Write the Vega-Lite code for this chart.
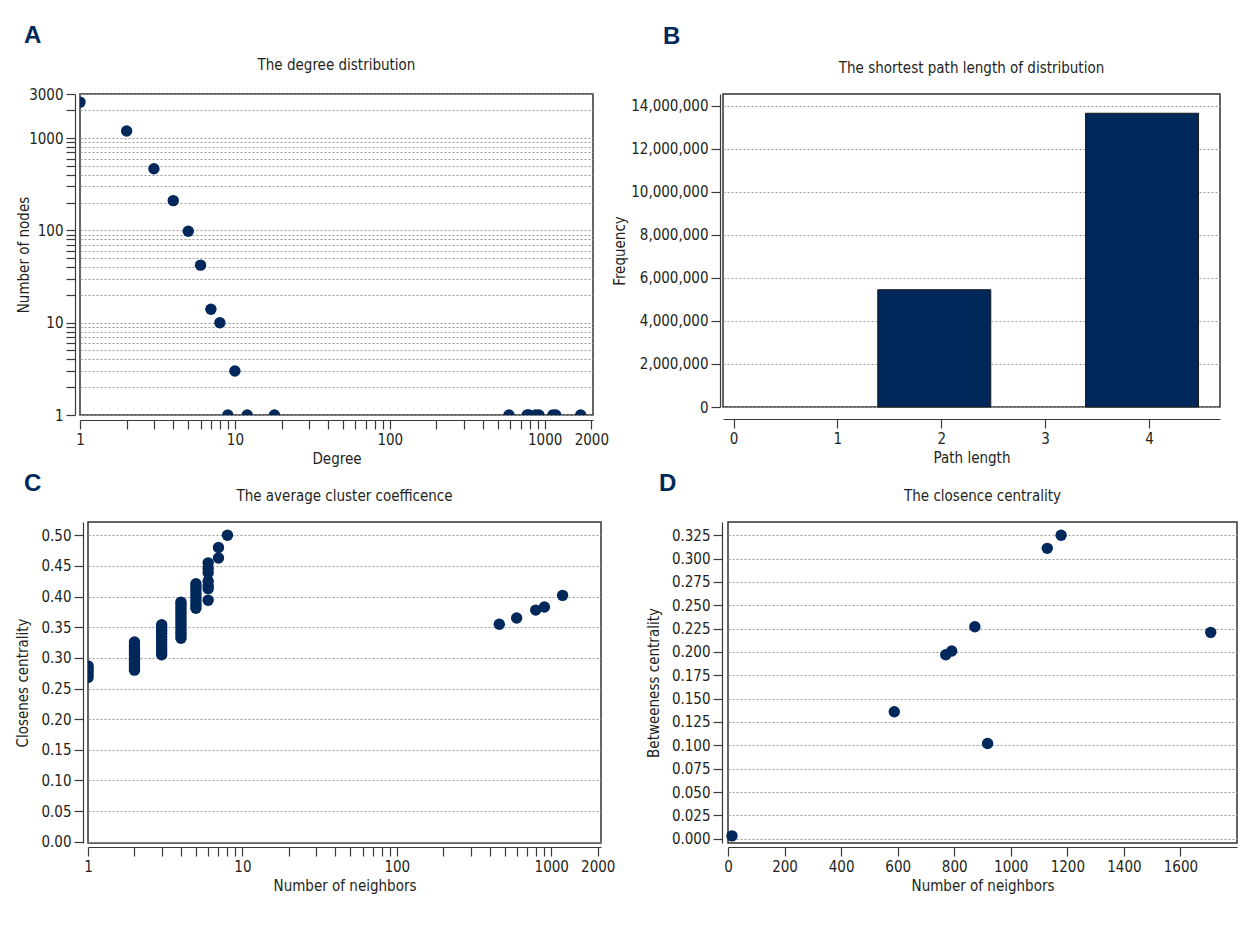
{
 "$schema": "https://vega.github.io/schema/vega-lite/v6.json",
 "background": "white",
 "padding": {"left": 8, "top": 24, "right": 5, "bottom": 5},
 "datasets": {
  "deg": [{"k":1,"n":2450},{"k":2,"n":1190},{"k":3,"n":465},{"k":4,"n":210},{"k":5,"n":98},{"k":6,"n":42},{"k":7,"n":14},{"k":8,"n":10},{"k":10,"n":3},{"k":9,"n":1},{"k":12,"n":1},{"k":18,"n":1},{"k":588,"n":1},{"k":770,"n":1},{"k":791,"n":1},{"k":873,"n":1},{"k":918,"n":1},{"k":1129,"n":1},{"k":1178,"n":1},{"k":1707,"n":1}],
  "path": [{"len":2,"freq":5450000},{"len":4,"freq":13650000}],
  "clus": [
   {"k":1,"c":0.268},{"k":1,"c":0.272},{"k":1,"c":0.276},{"k":1,"c":0.280},{"k":1,"c":0.284},{"k":1,"c":0.287},
   {"k":2,"c":0.280},{"k":2,"c":0.284},{"k":2,"c":0.288},{"k":2,"c":0.292},{"k":2,"c":0.296},{"k":2,"c":0.300},{"k":2,"c":0.304},{"k":2,"c":0.308},{"k":2,"c":0.312},{"k":2,"c":0.316},{"k":2,"c":0.320},{"k":2,"c":0.326},
   {"k":3,"c":0.305},{"k":3,"c":0.310},{"k":3,"c":0.315},{"k":3,"c":0.320},{"k":3,"c":0.325},{"k":3,"c":0.330},{"k":3,"c":0.335},{"k":3,"c":0.340},{"k":3,"c":0.345},{"k":3,"c":0.350},{"k":3,"c":0.354},
   {"k":4,"c":0.332},{"k":4,"c":0.337},{"k":4,"c":0.342},{"k":4,"c":0.347},{"k":4,"c":0.352},{"k":4,"c":0.357},{"k":4,"c":0.362},{"k":4,"c":0.367},{"k":4,"c":0.372},{"k":4,"c":0.377},{"k":4,"c":0.382},{"k":4,"c":0.387},{"k":4,"c":0.391},
   {"k":5,"c":0.381},{"k":5,"c":0.386},{"k":5,"c":0.391},{"k":5,"c":0.396},{"k":5,"c":0.401},{"k":5,"c":0.406},{"k":5,"c":0.411},{"k":5,"c":0.416},{"k":5,"c":0.421},
   {"k":6,"c":0.394},{"k":6,"c":0.413},{"k":6,"c":0.418},{"k":6,"c":0.425},{"k":6,"c":0.439},{"k":6,"c":0.446},{"k":6,"c":0.455},
   {"k":7,"c":0.463},{"k":7,"c":0.480},{"k":8,"c":0.500},
   {"k":461,"c":0.355},{"k":597,"c":0.365},{"k":793,"c":0.378},{"k":903,"c":0.383},{"k":1184,"c":0.402}
  ],
  "clo": [{"k":14,"b":0.003},{"k":588,"b":0.136},{"k":770,"b":0.197},{"k":791,"b":0.201},{"k":873,"b":0.227},{"k":918,"b":0.102},{"k":1129,"b":0.311},{"k":1178,"b":0.325},{"k":1707,"b":0.221}]
 },
 "config": {
  "font": "DejaVu Sans Condensed, DejaVu Sans, sans-serif",
  "view": {"stroke": "#333333", "strokeWidth": 1.5},
  "axis": {
   "domainColor": "#3a3a3a", "domainWidth": 1.2, "tickColor": "#3a3a3a", "tickWidth": 1.2, "tickSize": 9,
   "labelFontSize": 15, "labelColor": "#231f20", "labelPadding": 3, "labelFlush": false, "labelOverlap": false,
   "titleFontSize": 15, "titleFontWeight": "normal", "titleColor": "#231f20", "titlePadding": 4,
   "gridColor": "#999999", "gridDash": [2, 2], "gridWidth": 1
  },
  "title": {"fontSize": 15, "fontWeight": "normal", "color": "#231f20"}
 },
 "columns": 2,
 "align": {"row": "each", "column": "none"},
 "spacing": {"row": 5, "column": -4},
 "concat": [
  {
   "title": {"text": "A", "anchor": "start", "frame": "group", "dx": 13, "offset": 9, "font": "Liberation Sans, Arial, sans-serif", "fontSize": 24, "fontWeight": "bold", "color": "#00285a"},
   "spacing": 0,
   "hconcat": [
    {"width": 1, "height": 1, "data": {"values": [{}]}, "mark": {"type": "point", "opacity": 0}, "encoding": {}, "view": {"stroke": "transparent"}},
    {
     "width": 513, "height": 321,
     "title": {"text": "The degree distribution", "anchor": "middle", "frame": "group", "offset": 14},
     "data": {"name": "deg"},
     "mark": {"type": "circle", "size": 130, "color": "#00285a", "opacity": 1, "clip": true},
     "encoding": {
      "x": {"field": "k", "type": "quantitative", "scale": {"type": "log", "domain": [1, 2050], "nice": false},
            "axis": {"title": "Degree", "grid": false, "offset": 5, "values": [1,2,3,4,5,6,7,8,9,10,20,30,40,50,60,70,80,90,100,200,300,400,500,600,700,800,900,1000,2000], "labelExpr": "indexof([1,10,100,1000,2000], datum.value) >= 0 ? format(datum.value, 'd') : ''"}},
      "y": {"field": "n", "type": "quantitative", "scale": {"type": "log", "domain": [1, 3000], "nice": false},
            "axis": {"title": "Number of nodes", "grid": true, "offset": 5, "titlePadding": -3, "values": [1,2,3,4,5,6,7,8,9,10,20,30,40,50,60,70,80,90,100,200,300,400,500,600,700,800,900,1000,2000,3000], "labelExpr": "indexof([1,10,100,1000,3000], datum.value) >= 0 ? format(datum.value, 'd') : ''"}}
     }
    }
   ]
  },
  {
   "title": {"text": "B", "anchor": "start", "frame": "group", "dx": -60, "offset": 11, "font": "Liberation Sans, Arial, sans-serif", "fontSize": 24, "fontWeight": "bold", "color": "#00285a"},
   "vconcat": [
    {
     "width": 497, "height": 313,
     "title": {"text": "The shortest path length of distribution", "anchor": "middle", "frame": "group", "offset": 18},
     "data": {"name": "path"},
     "mark": {"type": "bar", "size": 113, "color": "#00285a", "stroke": "#1a1a1a", "strokeWidth": 1, "xOffset": -7},
     "encoding": {
      "x": {"field": "len", "type": "quantitative", "scale": {"domain": [-0.053, 4.635], "nice": false, "zero": false},
            "axis": {"title": "Path length", "grid": false, "offset": 12, "values": [0,1,2,3,4], "format": "d"}},
      "y": {"field": "freq", "type": "quantitative", "scale": {"domain": [0, 14545000], "nice": false},
            "axis": {"title": "Frequency", "grid": true, "offset": 3, "titlePadding": 3, "values": [0,2000000,4000000,6000000,8000000,10000000,12000000,14000000], "format": ",d"}}
     }
    }
   ]
  },
  {
   "title": {"text": "C", "anchor": "start", "frame": "group", "dx": 13, "offset": -8, "font": "Liberation Sans, Arial, sans-serif", "fontSize": 24, "fontWeight": "bold", "color": "#00285a"},
   "spacing": 0,
   "hconcat": [
    {"width": 1, "height": 1, "data": {"values": [{}]}, "mark": {"type": "point", "opacity": 0}, "encoding": {}, "view": {"stroke": "transparent"}},
    {
     "width": 513, "height": 321,
     "title": {"text": "The average cluster coefficence", "anchor": "middle", "frame": "group", "offset": 18},
     "data": {"name": "clus"},
     "mark": {"type": "circle", "size": 130, "color": "#00285a", "opacity": 1, "clip": true},
     "encoding": {
      "x": {"field": "k", "type": "quantitative", "scale": {"type": "log", "domain": [1, 2100], "nice": false},
            "axis": {"title": "Number of neighbors", "grid": false, "offset": 4, "values": [1,2,3,4,5,6,7,8,9,10,20,30,40,50,60,70,80,90,100,200,300,400,500,600,700,800,900,1000,2000], "labelExpr": "indexof([1,10,100,1000,2000], datum.value) >= 0 ? format(datum.value, 'd') : ''"}},
      "y": {"field": "c", "type": "quantitative", "scale": {"domain": [-0.002, 0.5217], "nice": false, "zero": false},
            "axis": {"title": "Closenes centrality", "grid": true, "offset": 5, "titlePadding": 10, "values": [0,0.05,0.1,0.15,0.2,0.25,0.3,0.35,0.4,0.45,0.5], "format": ".2f"}}
     }
    }
   ]
  },
  {
   "title": {"text": "D", "anchor": "start", "frame": "group", "dx": 46, "offset": -8, "font": "Liberation Sans, Arial, sans-serif", "fontSize": 24, "fontWeight": "bold", "color": "#00285a"},
   "spacing": 0,
   "hconcat": [
    {"width": 31, "height": 1, "data": {"values": [{}]}, "mark": {"type": "point", "opacity": 0}, "encoding": {}, "view": {"stroke": "transparent"}},
    {
     "width": 509, "height": 321,
     "title": {"text": "The closence centrality", "anchor": "middle", "frame": "group", "offset": 18},
     "data": {"name": "clo"},
     "mark": {"type": "circle", "size": 130, "color": "#00285a", "opacity": 1},
     "encoding": {
      "x": {"field": "k", "type": "quantitative", "scale": {"domain": [0, 1800], "nice": false},
            "axis": {"title": "Number of neighbors", "grid": false, "offset": 4, "values": [0,200,400,600,800,1000,1200,1400,1600], "format": "d"}},
      "y": {"field": "b", "type": "quantitative", "scale": {"domain": [-0.0046, 0.3392], "nice": false, "zero": false},
            "axis": {"title": "Betweeness centrality", "grid": true, "offset": 6, "titlePadding": 10, "values": [0,0.025,0.05,0.075,0.1,0.125,0.15,0.175,0.2,0.225,0.25,0.275,0.3,0.325], "format": ".3f"}}
     }
    }
   ]
  }
 ]
}
